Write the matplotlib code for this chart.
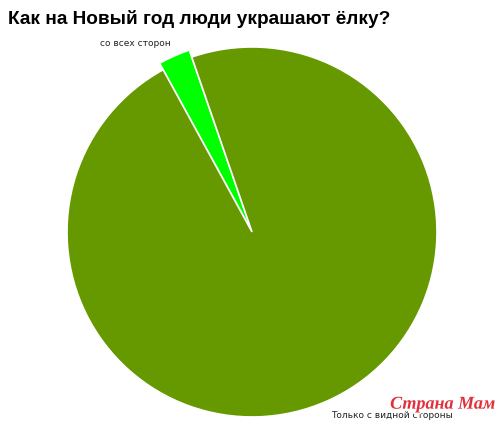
import matplotlib
matplotlib.use("Agg")
import matplotlib.pyplot as plt
import matplotlib.patheffects as pe

labels = ["со всех сторон", "Только с видной стороны"]
values = [2.7, 97.3]
colors = ["#00ff00", "#669900"]

fig = plt.figure(figsize=(5, 4.21), dpi=100)
ax = fig.add_axes([0.134, 0.0095, 0.74, 0.879])

wedges, _ = ax.pie(values, colors=colors, startangle=109, counterclock=True,
                   wedgeprops=dict(edgecolor="white", linewidth=1.2))
wedges[0].set_radius(1.04)
ax.set_xlim(-1, 1)
ax.set_ylim(-1, 1)
ax.set_aspect("equal")
ax.axis("off")

fig.text(0.016, 0.955, "Как на Новый год люди украшают ёлку?", fontsize=13.7,
         fontweight="bold", family="Liberation Sans", va="center", ha="left")
fig.text(0.2, 0.897, labels[0], fontsize=6.5, family="DejaVu Sans",
         va="center", ha="left", color="#222222")
fig.text(0.662, 0.014, labels[1], fontsize=6.5, family="DejaVu Sans",
         va="center", ha="left", color="#222222")

# watermark
fig.text(0.99, 0.04, "Страна Мам", fontsize=13, family="Liberation Serif",
         style="italic", fontweight="bold", color="#e0303c", ha="right", va="center",
         path_effects=[pe.withStroke(linewidth=2.5, foreground="white")])

fig.savefig("out.png", dpi=100)
